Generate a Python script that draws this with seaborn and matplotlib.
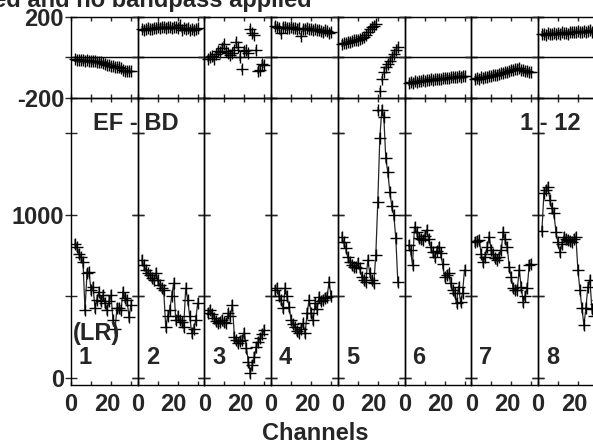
import numpy as np
import pandas as pd
import matplotlib
matplotlib.use("Agg")
import matplotlib.pyplot as plt
import matplotlib.transforms as mtransforms
import seaborn as sns

# channels shown in every panel
channels = list(range(2, 31))
panel_names = ["1", "2", "3", "4", "5", "6", "7", "8"]

# amplitude per channel (lower row)
amp_1 = [820, 800, 760, 740, 712, 416, 640, 650, 540, 560, 428, 480, 528, 470, 508,
         460, 416, 470, 508, 355, 300, 428, 430, 416, 528, 490, 477, 375, 447]
amp_2 = [722, 690, 661, 640, 630, 610, 600, 642, 600, 569, 550, 538, 314, 380, 416,
         500, 581, 355, 380, 355, 340, 314, 550, 477, 380, 275, 300, 355, 459]
amp_3 = [400, 416, 390, 367, 350, 336, 345, 355, 340, 336, 395, 380, 447, 253, 230,
         214, 225, 234, 275, 184, 100, 31, 80, 130, 191, 220, 245, 270, 294]
amp_4 = [540, 549, 500, 477, 426, 549, 500, 436, 355, 330, 314, 290, 273, 300, 334,
         273, 396, 477, 400, 355, 457, 420, 498, 470, 477, 490, 498, 590, 500]
amp_5 = [865, 830, 794, 740, 712, 692, 681, 681, 702, 671, 620, 600, 590, 722, 640,
         600, 579, 753, 1079, 1467, 1640, 1600, 1344, 1260, 1140, 1050, 997, 857, 590]
amp_6 = [814, 783, 692, 926, 896, 857, 850, 845, 870, 906, 850, 804, 770, 742, 780,
         804, 763, 700, 620, 630, 640, 579, 540, 518, 457, 560, 467, 520, 661]
amp_7 = [834, 840, 845, 760, 712, 742, 800, 865, 783, 760, 732, 720, 742, 783, 896,
         850, 804, 681, 620, 549, 540, 538, 661, 560, 467, 500, 549, 692, 700]
amp_8 = [900, 1130, 1150, 1171, 1089, 1040, 1008, 896, 830, 773, 820, 865, 850, 845, 840,
         834, 850, 865, 661, 540, 430, 324, 428, 560, 600, 420, 380, 450, 480]

# phase per channel (upper row), degrees
phase_1 = [-8, -10, -12, -10, -14, -15, -13, -17, -16, -19, -18, -20, -22, -24, -28,
           -30, -35, -38, -40, -42, -45, -48, -47, -52, -60, -66, -68, -65, -66]
phase_2 = [140, 138, 142, 145, 140, 143, 148, 146, 150, 147, 152, 150, 148, 153, 150,
           146, 152, 150, 148, 160, 138, 145, 142, 148, 135, 140, 138, 142, 145]
phase_3 = [-5, 0, 5, -5, 15, 30, 25, 45, 65, 30, 20, 10, 20, 35, 75,
           50, 0, -55, 30, 35, 20, 140, 120, 110, 35, -65, -60, -30, -35]
phase_4 = [158, 150, 148, 120, 152, 150, 148, 145, 150, 147, 145, 142, 148, 105, 140,
           143, 145, 140, 142, 138, 140, 135, 138, 130, 128, 135, 130, 122, 125]
phase_5 = [68, 70, 74, 76, 79, 82, 84, 86, 88, 91, 95, 102, 109, 125, 142,
           150, 158, 166, -260, -165, -105, -70, -48, -30, -15, 0, 18, 35, 51]
phase_6 = [-125, -122, -124, -118, -120, -116, -118, -112, -115, -110, -112, -108, -110, -105, -107,
           -104, -106, -100, -103, -99, -100, -96, -98, -95, -97, -92, -94, -90, -92]
phase_7 = [-105, -102, -104, -98, -100, -95, -97, -90, -92, -88, -85, -86, -80, -78, -75,
           -72, -70, -68, -62, -60, -58, -56, -50, -62, -64, -66, -68, -70, -72]
phase_8 = [115, 118, 112, 120, 116, 118, 122, 114, 120, 118, 125, 120, 122, 118, 125,
           128, 124, 126, 130, 125, 128, 132, 126, 130, 135, 128, 132, 134, 130]

amp_err = 30
phase_err = 16

amps = [amp_1, amp_2, amp_3, amp_4, amp_5, amp_6, amp_7, amp_8]
phases = [phase_1, phase_2, phase_3, phase_4, phase_5, phase_6, phase_7, phase_8]

sns.set_style("white")
plt.rcParams["font.family"] = ["Liberation Sans", "DejaVu Sans"]
plt.rcParams["font.weight"] = "bold"
plt.rcParams["font.size"] = 17

fig = plt.figure(figsize=(5.93, 4.40), dpi=100)
W, H = 593.0, 440.0


def box(left, top, right, bottom):
    return [left / W, 1 - bottom / H, (right - left) / W, (bottom - top) / H]


x0 = 71.0
pw = 66.7
shift20 = mtransforms.ScaledTranslation(-4 / 100, 0, fig.dpi_scale_trans)

for i, name in enumerate(panel_names):
    df = pd.DataFrame({"Channel": channels, "Amp": amps[i], "Phase": phases[i]})
    left = x0 + i * pw

    # phase panel
    axp = fig.add_axes(box(left, 17, left + pw, 98))
    axp.errorbar(df["Channel"], df["Phase"], yerr=phase_err, fmt="none",
                 ecolor="0.5", elinewidth=1.3, capsize=0, clip_on=False)
    sns.scatterplot(data=df, x="Channel", y="Phase", ax=axp, marker="+", s=65,
                    color="black", linewidth=1.0, clip_on=False, zorder=3)
    axp.axhline(0, color="black", lw=1.0)
    axp.set_xlim(0, 33.35)
    axp.set_ylim(-200, 200)
    axp.set_xticks([0, 10, 20, 30])
    axp.set_yticks([-200, 0, 200])
    axp.tick_params(axis="x", direction="in", top=True, bottom=True, length=3,
                    width=1, labelbottom=False)
    axp.tick_params(axis="y", direction="inout", left=True, right=True, length=8,
                    width=1, pad=1)
    if i == 0:
        axp.set_yticklabels(["-200", "", "200"])
    else:
        axp.tick_params(axis="y", labelleft=False)
    axp.set_xlabel("")
    axp.set_ylabel("")

    # amplitude panel
    axa = fig.add_axes(box(left, 98, left + pw, 385))
    axa.errorbar(df["Channel"], df["Amp"], yerr=amp_err, fmt="none",
                 ecolor="0.5", elinewidth=1.3, capsize=0)
    sns.lineplot(data=df, x="Channel", y="Amp", ax=axa, color="0.15", lw=0.9,
                 marker="+", markersize=9, markeredgecolor="black",
                 markeredgewidth=1.0)
    axa.set_xlim(0, 33.35)
    axa.set_ylim(-43, 1714)
    axa.set_xticks([0, 10, 20, 30])
    axa.set_xticklabels(["0", "", "20", ""])
    axa.set_yticks([0, 500, 1000, 1500])
    axa.tick_params(axis="x", direction="in", top=True, bottom=True, length=3,
                    width=1, pad=6)
    axa.tick_params(axis="y", direction="inout", left=True, right=True, length=8,
                    width=1, pad=1)
    if i == 0:
        axa.set_yticklabels(["0", "", "1000", ""])
    else:
        axa.tick_params(axis="y", labelleft=False)
    for lab in axa.get_xticklabels():
        if lab.get_text() == "20":
            lab.set_transform(lab.get_transform() + shift20)
    axa.set_xlabel("")
    axa.set_ylabel("")
    axa.text(8 / pw, (385 - 357) / 287, name, transform=axa.transAxes,
             ha="left", va="center", fontsize=17, fontweight="bold")

    for ax in (axp, axa):
        ax.set_facecolor("none")
        for sp in ax.spines.values():
            sp.set_color("black")
            sp.set_linewidth(1.0)

fig.text(73 / W, 1 - 333 / H, "(LR)", ha="left", va="center",
         fontsize=17, fontweight="bold")
fig.text(93 / W, 1 - 123 / H, "EF - BD", ha="left", va="center",
         fontsize=17, fontweight="bold")
fig.text(581 / W, 1 - 123 / H, "1 - 12", ha="right", va="center",
         fontsize=17, fontweight="bold")
fig.text(315 / W, 1 - 433 / H, "Channels", ha="center", va="center",
         fontsize=17, fontweight="bold")
fig.text(312 / W, 1 - 7 / H, "Data calibrated and no bandpass applied",
         ha="right", va="baseline", fontsize=17, fontweight="bold")

fig.savefig("out.png", dpi=100)
